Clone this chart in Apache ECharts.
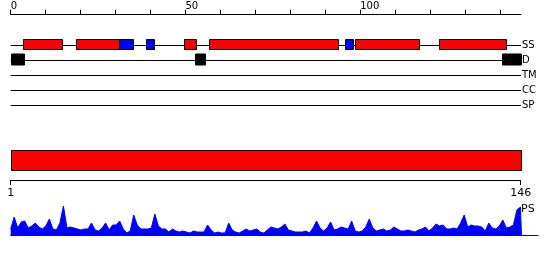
<!DOCTYPE html>
<html>
<head>
<meta charset="utf-8">
<script src="https://cdn.jsdelivr.net/npm/echarts@6/dist/echarts.min.js"></script>
<style>
  html, body { margin: 0; padding: 0; background: #fff; }
  #main { width: 550px; height: 260px; }
</style>
</head>
<body>
<div id="main"></div>
<script>
// track rows
var trackNames = ['SS', 'D', 'TM', 'CC', 'SP'];
// secondary structure: helix (red) and strand (blue) ranges, residue scale
var helixRanges = [[3.6, 14.9], [18.7, 30.9], [49.6, 52.9], [56.7, 93.7], [98.4, 116.6], [122.5, 141.7]];
var strandRanges = [[30.9, 34.9], [38.7, 40.9], [95.6, 97.8]];
// disorder ranges (black)
var disorderRanges = [[0, 3.8], [52.7, 55.7], [140.5, 146]];
// whole-sequence domain bar
var domainRanges = [[1, 146]];
var seqLength = 146;
// top ruler
var rulerTicks = [0, 10, 20, 30, 40, 50, 60, 70, 80, 90, 100, 110, 120, 130, 140];
var rulerLabels = [0, 50, 100];
var seqLabels = [1, 146];
// per-residue PS profile (1..146)
var psValues = [
  6, 18, 7, 13, 14, 7, 9, 12, 8, 6,
  9, 16, 6, 5, 12, 29, 7, 8, 7, 6,
  5, 6, 6, 12, 5, 4, 7, 12, 5, 10,
  10, 14, 6, 2, 4, 20, 10, 6, 6, 6,
  7, 21, 9, 6, 6, 3, 6, 4, 3, 4,
  3, 2, 4, 3, 3, 3, 10, 5, 2, 3,
  2, 2, 12, 5, 3, 2, 4, 6, 4, 5,
  6, 3, 2, 5, 8, 7, 6, 8, 11, 5,
  4, 3, 3, 3, 4, 2, 7, 14, 7, 4,
  7, 13, 5, 6, 8, 7, 6, 14, 4, 3,
  4, 8, 16, 7, 4, 5, 6, 4, 5, 8,
  6, 4, 4, 5, 4, 3, 5, 6, 8, 4,
  7, 11, 9, 10, 6, 6, 7, 6, 12, 20,
  8, 10, 9, 9, 8, 4, 12, 7, 6, 9,
  15, 7, 8, 10, 25, 28
];

var FONT = 'DejaVu Sans';

var trackData = [];
helixRanges.forEach(function (r) {
  trackData.push({ value: [r[0], r[1], 0], itemStyle: { color: '#ff0000', borderColor: '#000' } });
});
strandRanges.forEach(function (r) {
  trackData.push({ value: [r[0], r[1], 0], itemStyle: { color: '#0000ff', borderColor: '#000' } });
});
disorderRanges.forEach(function (r) {
  trackData.push({ value: [r[0], r[1], 1], itemStyle: { color: '#000', borderColor: '#000' } });
});

var psData = psValues.map(function (v, i) { return [i + 1, v]; });
psData.push([seqLength + 0.3, 0]);

function renderBox(params, api) {
  var a = api.coord([api.value(0), api.value(2)]);
  var b = api.coord([api.value(1), api.value(2)]);
  var cy = Math.round(a[1]);
  var h = api.value(2) === 0 ? 10 : 11;
  return {
    type: 'rect',
    shape: { x: Math.round(a[0]) + 0.5, y: cy - h / 2 - 0.5, width: Math.round(b[0] - a[0]), height: h },
    style: api.style({ lineWidth: 1 })
  };
}

function renderDomain(params, api) {
  var a = api.coord([api.value(0), 1]);
  var b = api.coord([api.value(1), 1]);
  return {
    type: 'rect',
    shape: { x: Math.round(a[0]) + 0.5, y: Math.round(a[1]) + 0.5, width: Math.round(b[0] - a[0]), height: 20 },
    style: { fill: '#ff0000', stroke: '#000', lineWidth: 1 }
  };
}

var myChart = echarts.init(document.getElementById('main'), null, { renderer: 'canvas' });

var option = {
  animation: false,
  textStyle: { fontFamily: FONT },
  grid: [
    { left: 10.7, width: 510.3, top: 45, height: 60 },
    { left: 10.7, width: 510, top: 150, height: 30 },
    { left: 10.7, width: 527.3, top: 205, height: 30 }
  ],
  xAxis: [
    {
      gridIndex: 0, type: 'value', position: 'top', offset: 30.3,
      min: 0, max: seqLength,
      axisLine: { show: true, lineStyle: { color: '#000', width: 1 } },
      axisTick: { show: true, length: 5, customValues: rulerTicks, lineStyle: { color: '#000' } },
      axisLabel: { customValues: rulerLabels, align: 'left', margin: 3, fontSize: 10, color: '#000', fontFamily: FONT },
      splitLine: { show: false }
    },
    {
      gridIndex: 1, type: 'value', min: 1, max: seqLength,
      axisLine: { show: true, lineStyle: { color: '#000', width: 1 } },
      axisTick: { show: true, length: 5, customValues: seqLabels, lineStyle: { color: '#000' } },
      axisLabel: { customValues: seqLabels, margin: 8, fontSize: 11, color: '#000', fontFamily: FONT },
      splitLine: { show: false }
    },
    {
      gridIndex: 2, type: 'value', min: 1, max: 151,
      axisLine: { show: true, onZero: false, lineStyle: { color: '#0000ff', width: 1 } },
      axisTick: { show: false },
      axisLabel: { show: false },
      splitLine: { show: false }
    }
  ],
  yAxis: [
    {
      gridIndex: 0, type: 'category', data: trackNames, inverse: true, boundaryGap: false,
      position: 'right',
      axisLine: { show: false },
      axisTick: { show: false },
      axisLabel: { margin: 1, fontSize: 10, color: '#000', fontFamily: FONT },
      splitLine: { show: true, lineStyle: { color: '#000', width: 1 } }
    },
    {
      gridIndex: 1, type: 'value', min: 0, max: 1, show: false
    },
    {
      gridIndex: 2, type: 'value', min: 0, max: 30, show: false
    }
  ],
  series: [
    {
      type: 'custom', xAxisIndex: 0, yAxisIndex: 0,
      renderItem: renderBox,
      encode: { x: [0, 1], y: 2 },
      data: trackData
    },
    {
      type: 'custom', xAxisIndex: 1, yAxisIndex: 1,
      renderItem: renderDomain,
      encode: { x: [0, 1] },
      data: domainRanges
    },
    {
      type: 'line', name: 'PS', xAxisIndex: 2, yAxisIndex: 2,
      data: psData,
      showSymbol: false, symbol: 'none',
      lineStyle: { color: '#0000ff', width: 1 },
      areaStyle: { color: '#0000ff', opacity: 1 },
      itemStyle: { color: '#0000ff' }
    }
  ],
  graphic: [
    { type: 'text', left: 521, top: 204, style: { text: 'PS', fontSize: 11, fontFamily: FONT, fill: '#000' } }
  ]
};

myChart.setOption(option);
</script>
</body>
</html>
